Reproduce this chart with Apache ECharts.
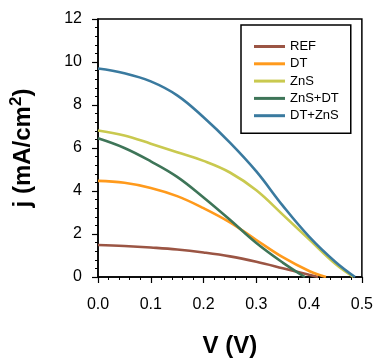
<!DOCTYPE html>
<html><head><meta charset="utf-8">
<script src="https://cdn.jsdelivr.net/npm/echarts@6/dist/echarts.min.js"></script>
<style>html,body{margin:0;padding:0;background:#fff}#c{width:376px;height:363px}</style>
</head><body><div id="c"></div>
<script>
const seriesNames = ['REF', 'DT', 'ZnS', 'ZnS+DT', 'DT+ZnS'];
const vREF = [0, 0.05, 0.1, 0.15, 0.2, 0.25, 0.3, 0.35, 0.4, 0.417];
const jREF = [1.49, 1.44, 1.37, 1.28, 1.14, 0.96, 0.71, 0.41, 0.10, 0];
const vDT = [0, 0.05, 0.1, 0.15, 0.2, 0.25, 0.3, 0.35, 0.4, 0.432];
const jDT = [4.47, 4.38, 4.14, 3.76, 3.20, 2.54, 1.72, 0.92, 0.28, 0];
const vZnS = [0, 0.05, 0.1, 0.15, 0.2, 0.25, 0.3, 0.35, 0.4, 0.45, 0.484];
const jZnS = [6.81, 6.58, 6.20, 5.80, 5.40, 4.86, 4.03, 2.90, 1.75, 0.60, 0];
const vZnSDT = [0, 0.05, 0.1, 0.15, 0.2, 0.25, 0.3, 0.35, 0.392];
const jZnSDT = [6.45, 6.00, 5.38, 4.66, 3.70, 2.66, 1.58, 0.67, 0];
const vDTZnS = [0, 0.05, 0.1, 0.15, 0.2, 0.25, 0.3, 0.35, 0.4, 0.45, 0.487];
const jDTZnS = [9.70, 9.48, 9.10, 8.45, 7.43, 6.25, 4.91, 3.32, 1.88, 0.70, 0];
const xTicks = ['0.0', '0.1', '0.2', '0.3', '0.4', '0.5'];
const yTicks = ['0', '2', '4', '6', '8', '10', '12'];
const colors = ['#9B5544', '#FF9A1C', '#C9C94F', '#3E7558', '#3A7A9F'];

const vs = [vREF, vDT, vZnS, vZnSDT, vDTZnS];
const js = [jREF, jDT, jZnS, jZnSDT, jDTZnS];
const font = 'Arial, "Liberation Sans", Helvetica, sans-serif';

const chart = echarts.init(document.getElementById('c'), null, {renderer: 'canvas'});
chart.setOption({
  animation: false,
  backgroundColor: '#fff',
  color: colors,
  grid: {left: 98, top: 19, right: 13, bottom: 81, show: true, borderColor: '#000', borderWidth: 1.5, backgroundColor: 'transparent'},
  legend: {
    orient: 'vertical', left: 241, top: 25,
    padding: [15, 12, 11, 13],
    borderColor: '#000', borderWidth: 1.5,
    itemWidth: 31, itemHeight: 14, itemGap: 4.3,
    icon: 'path://M0,0H31V3H0Z',
    textStyle: {fontFamily: font, fontSize: 13, color: '#000'},
    data: seriesNames
  },
  xAxis: {
    type: 'value', min: 0, max: 0.5, interval: 0.1,
    name: 'V (V)', nameLocation: 'middle', nameGap: 57,
    nameTextStyle: {fontFamily: font, fontSize: 24, fontWeight: 'bold', color: '#000'},
    axisLine: {lineStyle: {color: '#000', width: 1.5}},
    axisTick: {show: true, length: 6, lineStyle: {color: '#000', width: 1.2}},
    minorTick: {show: true, splitNumber: 5, length: 3, lineStyle: {color: '#000', width: 1}},
    splitLine: {show: false},
    axisLabel: {fontFamily: font, fontSize: 16, color: '#000', margin: 20,
      formatter: v => xTicks[Math.round(v * 10)]}
  },
  yAxis: {
    type: 'value', min: 0, max: 12, interval: 2,
    name: '{a|j (mA/cm}{b|2}{a|)}', nameLocation: 'middle', nameGap: 59,
    nameTextStyle: {
      rich: {
        a: {fontFamily: font, fontSize: 24, fontWeight: 'bold', color: '#000'},
        b: {fontFamily: font, fontSize: 17, fontWeight: 'bold', color: '#000', padding: [0, 0, 14, 0]}
      }
    },
    axisLine: {show: true, lineStyle: {color: '#000', width: 1.5}},
    axisTick: {show: true, length: 6, lineStyle: {color: '#000', width: 1.2}},
    minorTick: {show: true, splitNumber: 5, length: 3, lineStyle: {color: '#000', width: 1}},
    splitLine: {show: false},
    axisLabel: {fontFamily: font, fontSize: 16, color: '#000', margin: 16,
      formatter: v => yTicks[Math.round(v / 2)]}
  },
  series: seriesNames.map((n, i) => ({
    name: n, type: 'line', smooth: 0.4, symbol: 'none', showSymbol: false,
    lineStyle: {width: 2.6, color: colors[i]},
    itemStyle: {color: colors[i]},
    z: 2 + i,
    data: vs[i].map((v, k) => [v, js[i][k]])
  }))
});
</script></body></html>
